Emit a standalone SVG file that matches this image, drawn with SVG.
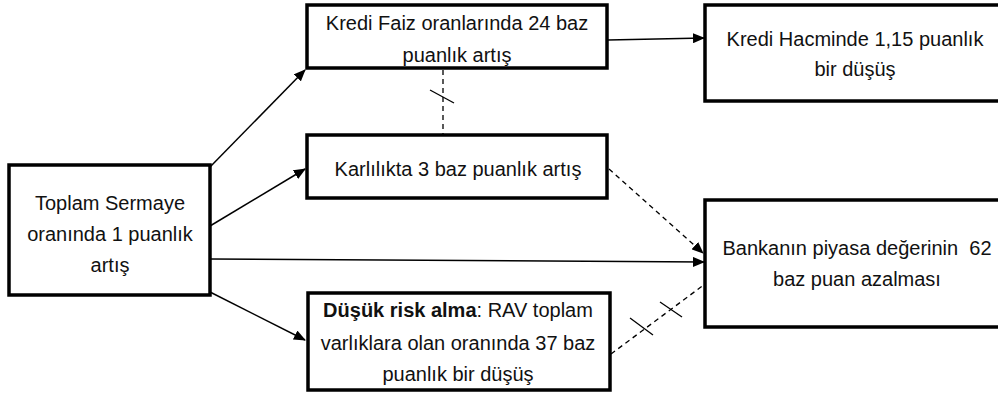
<svg xmlns="http://www.w3.org/2000/svg" width="998" height="394" viewBox="0 0 998 394">
<defs>
<marker id="ah" markerWidth="12" markerHeight="10" refX="11" refY="5" orient="auto" markerUnits="userSpaceOnUse">
<path d="M0,0 L12,5 L0,10 Z" fill="#000"/>
</marker>
<style>
.box{fill:#fff;stroke:#000;stroke-width:3.5}
.t{font-family:"Liberation Sans",Arial,sans-serif;font-size:20px;fill:#111;text-anchor:middle}
.c{stroke:#000;stroke-width:1.5;fill:none}
.d{stroke:#000;stroke-width:1.3;fill:none;stroke-dasharray:5,4}
.tk{stroke:#000;stroke-width:1.3}
</style>
</defs>
<g id="connectors">
<line class="c" x1="210" y1="167" x2="305" y2="70" marker-end="url(#ah)"/>
<line class="c" x1="210" y1="226" x2="305" y2="169" marker-end="url(#ah)"/>
<line class="c" x1="210" y1="259" x2="704" y2="262" marker-end="url(#ah)"/>
<line class="c" x1="210" y1="292" x2="305" y2="340" marker-end="url(#ah)"/>
<line class="c" x1="608" y1="40" x2="704" y2="38" marker-end="url(#ah)"/>
<line class="d" x1="443" y1="70" x2="443" y2="134"/>
<line class="tk" x1="430" y1="90" x2="454" y2="103"/>
<line class="d" x1="609" y1="169" x2="703" y2="253" marker-end="url(#ah)"/>
<line class="d" x1="611" y1="354" x2="705" y2="284"/>
<line class="tk" x1="630" y1="318" x2="653" y2="335"/>
<line class="tk" x1="660" y1="302" x2="682" y2="317"/>
</g>
<g id="n-toplam">
<rect class="box" x="9" y="165" width="201" height="130"/>
<text class="t" x="110" y="210">Toplam Sermaye</text>
<text class="t" x="110" y="241">oranında 1 puanlık</text>
<text class="t" x="110" y="272">artış</text>
</g>
<g id="n-kredi-faiz">
<rect class="box" x="307" y="5" width="300" height="63"/>
<text class="t" x="457" y="30">Kredi Faiz oranlarında 24 baz</text>
<text class="t" x="457" y="62">puanlık artış</text>
</g>
<g id="n-kredi-hacim">
<rect class="box" x="705" y="5" width="310" height="96"/>
<text class="t" x="855" y="46">Kredi Hacminde 1,15 puanlık</text>
<text class="t" x="855" y="76">bir düşüş</text>
</g>
<g id="n-karlilik">
<rect class="box" x="307" y="135" width="300" height="63"/>
<text class="t" x="458" y="176">Karlılıkta 3 baz puanlık artış</text>
</g>
<g id="n-banka">
<rect class="box" x="705" y="200" width="310" height="127"/>
<text class="t" x="857" y="255" xml:space="preserve">Bankanın piyasa değerinin  62</text>
<text class="t" x="857" y="286">baz puan azalması</text>
</g>
<g id="n-risk">
<rect class="box" x="308" y="293" width="302" height="97"/>
<text class="t" x="458" y="317"><tspan font-weight="bold">Düşük risk alma</tspan>: RAV toplam</text>
<text class="t" x="458" y="350">varlıklara olan oranında 37 baz</text>
<text class="t" x="458" y="381">puanlık bir düşüş</text>
</g>
</svg>
